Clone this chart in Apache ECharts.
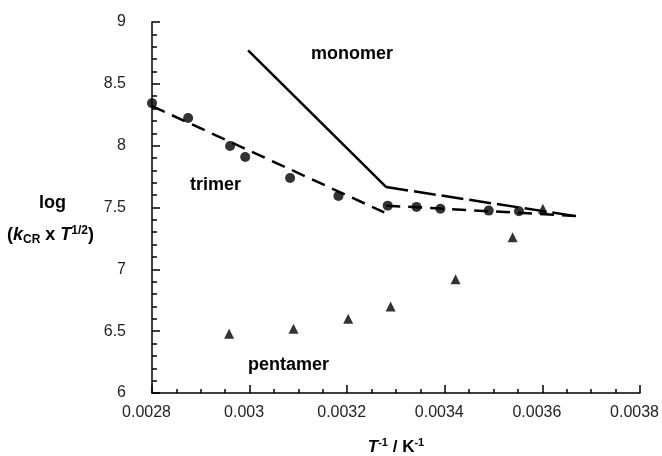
<!DOCTYPE html>
<html>
<head>
<meta charset="utf-8">
<script src="https://cdn.jsdelivr.net/npm/echarts@6/dist/echarts.min.js"></script>
<style>html,body{margin:0;padding:0;background:#fff;}#c{width:662px;height:456px;}</style>
</head>
<body>
<div id="c"></div>
<script>
// Data
var trimerX = [0.0028, 0.002874, 0.00296, 0.002991, 0.003083, 0.003182, 0.003283, 0.003342, 0.003391, 0.00349, 0.003552];
var trimerY = [8.344, 8.223, 7.997, 7.908, 7.738, 7.593, 7.515, 7.505, 7.49, 7.475, 7.47];
var pentamerX = [0.002958, 0.00309, 0.003202, 0.003289, 0.003422, 0.003539, 0.003601];
var pentamerY = [6.48, 6.52, 6.6, 6.7, 6.92, 7.26, 7.49];
var monomerSolidX = [0.002997, 0.00328];
var monomerSolidY = [8.77, 7.665];
var monomerDashX = [0.00328, 0.003677];
var monomerDashY = [7.665, 7.425];
var trimerFit1X = [0.0028, 0.003276];
var trimerFit1Y = [8.32, 7.46];
var trimerFit2X = [0.00328, 0.003677];
var trimerFit2Y = [7.515, 7.43];
var xTicks = ['0.0028', '0.003', '0.0032', '0.0034', '0.0036', '0.0038'];
var yTicks = ['6', '6.5', '7', '7.5', '8', '8.5', '9'];

function pairs(xs, ys) { return xs.map(function (x, i) { return [x, ys[i]]; }); }

var chart = echarts.init(document.getElementById('c'));
var fam = '"Liberation Sans", Arial, sans-serif';
chart.setOption({
  animation: false,
  backgroundColor: '#fff',
  grid: { left: 152, right: 22, top: 22, bottom: 63, containLabel: false, outerBoundsMode: 'none' },
  xAxis: {
    type: 'value', min: 0.0028, max: 0.0038, interval: 0.0002,
    axisLine: { lineStyle: { color: '#000', width: 1.5 } },
    axisTick: { inside: true, length: 8, lineStyle: { color: '#000', width: 1.5 } },
    minorTick: { show: true, splitNumber: 4, length: 4, lineStyle: { color: '#000', width: 1.5 } },
    splitLine: { show: false },
    axisLabel: {
      margin: 12, color: '#222', fontSize: 16, fontFamily: fam,
      formatter: function (v) { var i = Math.round((v - 0.0028) / 0.0002); return xTicks[i] ? '{t|' + xTicks[i] + '}' : ''; },
      rich: { t: { fontSize: 16, fontFamily: fam, color: '#222', padding: [0, 11, 0, 0] } }
    },
    name: '{bi|T}{sup|-1}{b| / K}{sup|-1}',
    nameLocation: 'middle', nameGap: 44,
    nameTextStyle: {
      rich: {
        bi: { fontWeight: 'bold', fontStyle: 'italic', fontSize: 17, fontFamily: fam, color: '#000' },
        b: { fontWeight: 'bold', fontSize: 17, fontFamily: fam, color: '#000' },
        sup: { fontWeight: 'bold', fontSize: 11, fontFamily: fam, color: '#000', verticalAlign: 'top', padding: [0, 0, 9, 0] }
      }
    }
  },
  yAxis: {
    type: 'value', min: 6, max: 9, interval: 0.5,
    axisLine: { lineStyle: { color: '#000', width: 1.5 } },
    axisTick: { inside: true, length: 8, lineStyle: { color: '#000', width: 1.5 } },
    minorTick: { show: true, splitNumber: 5, length: 5, lineStyle: { color: '#000', width: 1.5 } },
    splitLine: { show: false },
    axisLabel: {
      margin: 26, color: '#222', fontSize: 16, fontFamily: fam,
      formatter: function (v) { var i = Math.round((v - 6) / 0.5); return yTicks[i] || ''; }
    }
  },
  graphic: [
    { type: 'text', left: 311, top: 45, style: { text: 'monomer', font: 'bold 18px ' + fam, fill: '#000' } },
    { type: 'text', left: 190, top: 176, style: { text: 'trimer', font: 'bold 18px ' + fam, fill: '#000' } },
    { type: 'text', left: 248, top: 356, style: { text: 'pentamer', font: 'bold 18px ' + fam, fill: '#000' } },
    { type: 'text', left: 39, top: 194, style: { text: 'log', font: 'bold 18px ' + fam, fill: '#000' } },
    { type: 'text', left: 7, top: 225, style: {
      text: '{b|(}{bi|k}{sub|CR}{b| x }{bi|T}{sup|1/2}{b|)}',
      rich: {
        b: { font: 'bold 18px ' + fam, fill: '#000' },
        bi: { font: 'italic bold 18px ' + fam, fill: '#000' },
        sub: { font: 'bold 12px ' + fam, fill: '#000', verticalAlign: 'bottom', padding: [9, 0, 0, 0] },
        sup: { font: 'bold 12px ' + fam, fill: '#000', verticalAlign: 'top', padding: [0, 0, 9, 0] }
      } } }
  ],
  series: [
    { type: 'line', data: pairs(monomerSolidX, monomerSolidY), symbol: 'none',
      lineStyle: { color: '#000', width: 2.5, type: 'solid' } },
    { type: 'line', data: pairs(monomerDashX, monomerDashY), symbol: 'none',
      lineStyle: { color: '#000', width: 2.5, type: [22, 6] } },
    { type: 'line', data: pairs(trimerFit1X, trimerFit1Y), symbol: 'none',
      lineStyle: { color: '#000', width: 2.5, type: [14, 8] } },
    { type: 'line', data: pairs(trimerFit2X, trimerFit2Y), symbol: 'none',
      lineStyle: { color: '#000', width: 2.5, type: [14, 8] } },
    { type: 'scatter', data: pairs(trimerX, trimerY), symbol: 'circle', symbolSize: 10,
      itemStyle: { color: '#000' } },
    { type: 'scatter', data: pairs(pentamerX, pentamerY), symbol: 'triangle', symbolSize: 10,
      itemStyle: { color: '#000' } }
  ]
});
</script>
</body>
</html>
